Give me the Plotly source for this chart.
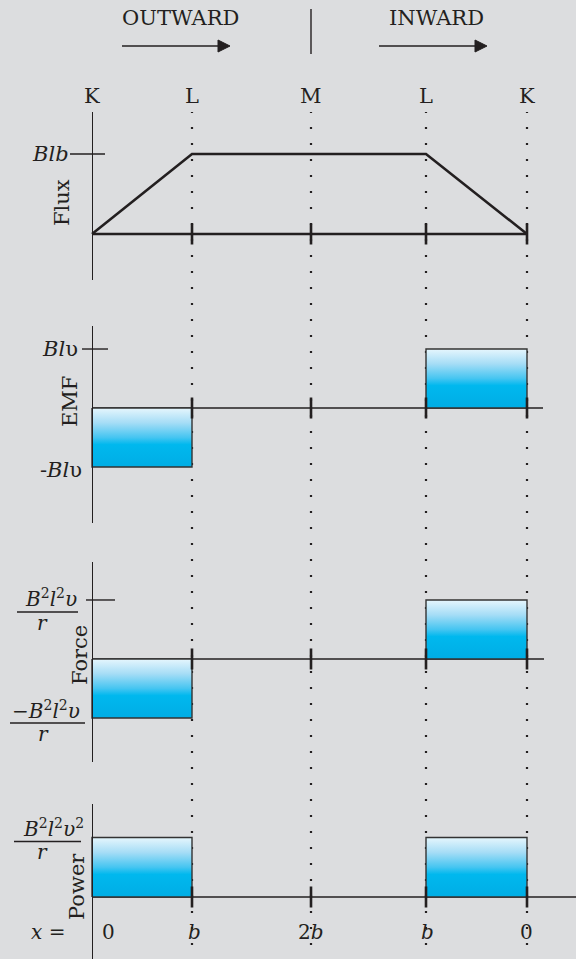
import plotly.graph_objects as go

W, H = 576, 959
INK = "#231f20"
BG = "#dcdddf"
FONT = "DejaVu Serif"

# stations along the path K -> L -> M -> L -> K, position in units of b
stations = ["K", "L", "M", "L", "K"]
path_pos = [0, 1.0, 2.19, 3.34, 4.35]
x_labels = ["0", "<i>b</i>", "2<i>b</i>", "<i>b</i>", "0"]

# flux at each station (units of Blb)
flux = [0, 1, 1, 1, 0]
# emf, force and power on each segment between two stations
emf = [-1, 0, 0, 1]
force = [-1, 0, 0, 1]
power = [1, 0, 0, 1]


def px(p):
    return p / W


def py(p):
    return 1 - p / H


X_RANGE = [-0.92, 4.84]

# y domain (pixel top/bottom) and value range of each panel
panels = {
    "flux": dict(n=1, top=112, bottom=280, rng=[-0.575, 1.525]),
    "emf": dict(n=2, top=326, bottom=523, rng=[-1.949, 1.390]),
    "force": dict(n=3, top=562, bottom=762, rng=[-1.746, 1.644]),
    "power": dict(n=4, top=804, bottom=959, rng=[-1.042, 1.563]),
}

grad = [[0, "#00ade5"], [0.38, "#00b8ee"], [0.5, "#45c5f1"],
        [0.75, "#a6ddf6"], [1, "#e6f6fd"]]

fig = go.Figure()
layout = dict(
    width=W, height=H, margin=dict(l=0, r=0, t=0, b=0),
    paper_bgcolor=BG, plot_bgcolor=BG, showlegend=False,
    font=dict(family=FONT, color=INK, size=19),
)


def axis_ids(n):
    return ("x" if n == 1 else f"x{n}"), ("y" if n == 1 else f"y{n}")


for name, p in panels.items():
    n = p["n"]
    xs = "xaxis" if n == 1 else f"xaxis{n}"
    ys = "yaxis" if n == 1 else f"yaxis{n}"
    xa, ya = axis_ids(n)
    layout[xs] = dict(domain=[0, 1], range=X_RANGE, visible=False, anchor=ya, fixedrange=True)
    layout[ys] = dict(domain=[py(p["bottom"]), py(p["top"])], range=p["rng"],
                      anchor="free", position=px(92), showline=True, linecolor=INK,
                      linewidth=1.4, showgrid=False, zeroline=False,
                      showticklabels=False, ticks="", fixedrange=True)

fig.update_layout(**layout)

# flux trapezoid
fig.add_trace(go.Scatter(x=path_pos, y=flux, mode="lines",
                         line=dict(color=INK, width=2.6), xaxis="x", yaxis="y"))

# baselines
base_end = {"flux": path_pos[-1], "emf": path_pos[-1] + 0.16,
            "force": path_pos[-1] + 0.17, "power": X_RANGE[1]}
base_w = {"flux": 2.6, "emf": 1.4, "force": 1.4, "power": 1.4}
for name, p in panels.items():
    xa, ya = axis_ids(p["n"])
    fig.add_trace(go.Scatter(x=[0, base_end[name]], y=[0, 0], mode="lines",
                             line=dict(color=INK, width=base_w[name]), xaxis=xa, yaxis=ya))

# gradient bars
for name, vals in [("emf", emf), ("force", force), ("power", power)]:
    xa, ya = axis_ids(panels[name]["n"])
    for i, v in enumerate(vals):
        if v == 0:
            continue
        x0, x1 = path_pos[i], path_pos[i + 1]
        fig.add_trace(go.Scatter(
            x=[x0, x1, x1, x0, x0], y=[0, 0, v, v, 0], mode="lines",
            fill="toself", fillgradient=dict(type="vertical", colorscale=grad),
            line=dict(color="#333333", width=1.4), xaxis=xa, yaxis=ya))

# station ticks on each baseline
for name, p in panels.items():
    xa, ya = axis_ids(p["n"])
    fig.add_trace(go.Scatter(x=path_pos[1:], y=[0] * 4, mode="markers",
                             marker=dict(symbol="line-ns", size=15,
                                         line=dict(color=INK, width=2.6)),
                             xaxis=xa, yaxis=ya))

# dotted station lines
for xv in path_pos[1:]:
    fig.add_shape(type="line", xref="x", yref="paper", x0=xv, x1=xv,
                  y0=py(945), y1=py(112), layer="below",
                  line=dict(color=INK, width=2.2, dash="2px,14px"))

# level ticks crossing the y axes
for name, lv, a, b in [("flux", 1, -0.22, 0.13), ("emf", 1, -0.10, 0.16), ("force", 1, -0.06, 0.23)]:
    xa, ya = axis_ids(panels[name]["n"])
    fig.add_shape(type="line", xref=xa, yref=ya, x0=a, x1=b, y0=lv, y1=lv,
                  line=dict(color=INK, width=1.4))

# direction arrows in the header
for x0, x1 in [(122, 230), (379, 487)]:
    fig.add_shape(type="line", xref="paper", yref="paper", x0=px(x0), x1=px(x1 - 10),
                  y0=py(46), y1=py(46), line=dict(color=INK, width=1.5))
    fig.add_shape(type="path", xref="paper", yref="paper",
                  path=f"M {px(x1 - 12)} {py(40)} L {px(x1)} {py(46)} L {px(x1 - 12)} {py(52)} Z",
                  fillcolor=INK, line=dict(color=INK, width=1))
fig.add_shape(type="line", xref="x", yref="paper", x0=path_pos[2], x1=path_pos[2],
              y0=py(54), y1=py(9), line=dict(color=INK, width=1.4))

ann = []


def text(t, x, y, xref="paper", yref="paper", size=19, xanchor="center", **kw):
    ann.append(dict(text=t, x=x, y=y, xref=xref, yref=yref, showarrow=False,
                    xanchor=xanchor, yanchor="middle",
                    font=dict(family=FONT, size=size, color=INK), **kw))


# header
text("OUTWARD", px(180), py(18), size=21)
text("INWARD", px(436), py(18), size=21)

# station letters
for s, xv in zip(stations, path_pos):
    text(s, xv, py(96), xref="x", size=21)

# value labels
text("<i>Blb</i>", px(71), 1, yref="y", xanchor="right", size=21)
text("<i>Bl</i>υ", px(80), 1, yref="y2", xanchor="right", size=21)
text("-<i>Bl</i>υ", px(84), -1, yref="y2", xanchor="right", size=21, yshift=-3)

# rotated axis names
text("Flux", px(62), py(203), textangle=-90, size=21)
text("EMF", px(70), py(402), textangle=-90, size=21)
text("Force", px(80), py(655), textangle=-90, size=21)
text("Power", px(77), py(887), textangle=-90, size=21)


def frac(num, yref, level, cx_num, dy_num, bar0, bar1, dy_bar, cx_den, dy_den):
    text(num, px(cx_num), level, yref=yref, yshift=dy_num, size=20)
    text("<i>r</i>", px(cx_den), level, yref=yref, yshift=dy_den, size=20)
    fig.add_shape(type="line", xref="paper", yref=yref, ysizemode="pixel", yanchor=level,
                  x0=px(bar0), x1=px(bar1), y0=dy_bar, y1=dy_bar,
                  line=dict(color=INK, width=1.3))


num_f = "<i>B</i><sup>2</sup><i>l</i><sup>2</sup><i>υ</i>"
frac(num_f, "y3", 1, 51, 2, 17, 78, -12, 42, -23)
frac("−" + num_f, "y3", -1, 46, 8, 10, 85, -5, 43, -16)
frac("<i>B</i><sup>2</sup><i>l</i><sup>2</sup><i>υ</i><sup>2</sup>", "y4", 1, 53, 10, 14, 81, -4, 42, -14)

# x = labels
text("<i>x</i> =", px(48), py(932), size=20)
for lab, xv, dx in zip(x_labels, path_pos, [16, 2, 0, 1, -1]):
    text(lab, xv, py(932), xref="x", xshift=dx, size=20)

fig.update_layout(annotations=ann)
fig.write_html("out.html", config={"displayModeBar": False},
               post_script="document.body.style.margin='0';document.body.style.overflow='hidden';")
